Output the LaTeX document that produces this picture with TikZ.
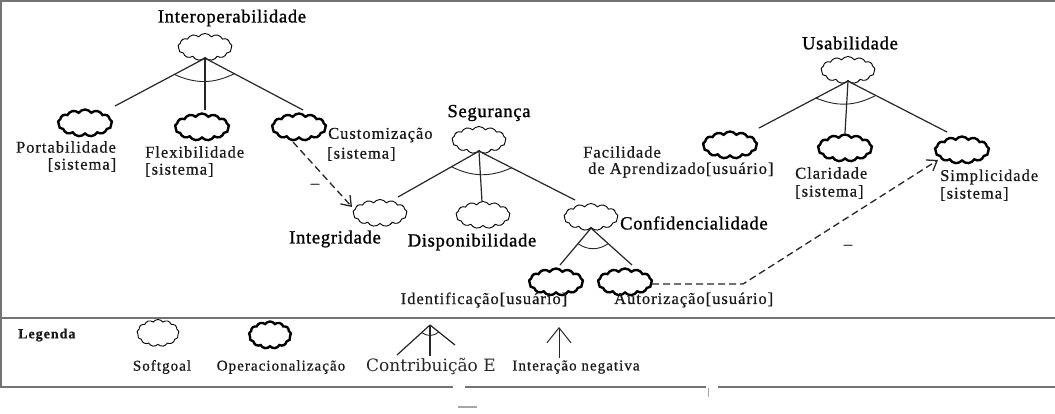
\documentclass[tikz,border=0pt]{standalone}
\usepackage{fontspec}
\setmainfont{Liberation Serif}
\newfontfamily\hfont[LetterSpace=4,FakeBold=1.2]{Liberation Serif}
\newfontfamily\lfont[LetterSpace=6,FakeBold=0.6]{Liberation Serif}
\newfontfamily\gfont[LetterSpace=7,FakeBold=0.8]{Liberation Serif}
\newfontfamily\cfont{DejaVu Serif}
\usetikzlibrary{shapes.symbols,arrows.meta,calc}
\begin{document}
\begin{tikzpicture}[x=1pt,y=1pt,
  soft/.style={cloud, cloud puffs=13, cloud puff arc=110, cloud ignores aspect, draw=black, line width=0.9pt, minimum width=54pt, minimum height=27pt, inner sep=0pt},
  oper/.style={soft, line width=2.4pt},
  head/.style={font=\hfont\fontsize{18.5}{20}\selectfont, inner sep=0pt, text=black},
  lab/.style={font=\lfont\fontsize{16.5}{18}\selectfont, inner sep=0pt, text=black!90},
  leg/.style={font=\gfont\fontsize{15}{17}\selectfont, inner sep=0pt, text=black!90},
  link/.style={draw=black!85, line width=1.2pt},
  andarc/.style={draw=black!85, line width=0.9pt},
  neg/.style={draw=black!85, line width=1.3pt, dash pattern=on 7pt off 4pt, -{Straight Barb[length=9pt,width=13pt]}},
  frame/.style={draw=black!55, line width=2.2pt}]
\useasboundingbox (0,0) rectangle (1055,-413);
% frame
\draw[frame] (1,-387) -- (1,-1) -- (1055,-1);
\draw[frame] (1,-318) -- (1055,-318);
\draw[frame] (0,-387) -- (453,-387);
\draw[frame] (465,-387) -- (706,-387);
\draw[frame] (718,-387) -- (1055,-387);
\draw[draw=black!35, line width=1.5pt] (458,-407) -- (477,-407);
\draw[draw=black!35, line width=1pt] (708,-388) -- (708,-397);

% Interoperabilidade
\node[soft] (interop) at (205,-47) {};
\node[head] (tinterop) at (232,-18) {Interoperabilidade};
\node[oper] (port) at (85,-123) {};
\node[oper] (flex) at (202,-127) {};
\node[oper] (cust) at (299,-127) {};
\node[lab] (tport) at (66,-147) {Portabilidade};
\node[lab] (tport2) at (82,-165) {[sistema]};
\node[lab, anchor=west] (tflex) at (145,-152) {Flexibilidade};
\node[lab, anchor=west] (tflex2) at (145,-170) {[sistema]};
\node[lab, anchor=west] (tcust) at (328,-135) {Customização};
\node[lab, anchor=west] (tcust2) at (327,-154) {[sistema]};
\coordinate (i1) at ($(port)+(30,17)$);
\coordinate (i2) at ($(flex)+(3,17)$);
\coordinate (i3) at ($(cust)+(4,17)$);
\draw[link] (interop.south) -- (i1);
\draw[link] (interop.south) -- (i2);
\draw[link] (interop.south) -- (i3);
\draw[andarc] ($(interop.south)!0.34!(i1)$) to[bend right=25] ($(interop.south)!0.3!(i3)$);

% Seguranca
\node[soft] (seg) at (479,-140) {};
\node[head] (tseg) at (489,-113) {Segurança};
\node[soft] (integ) at (380,-213) {};
\node[soft] (dispo) at (483,-215) {};
\node[soft] (conf) at (591,-217) {};
\node[head] (tinteg) at (335,-239) {Integridade};
\node[head] (tdispo) at (472,-242) {Disponibilidade};
\node[head, anchor=west] (tconf) at (620,-223) {Confidencialidade};
\coordinate (s1) at ($(integ)+(18,16)$);
\coordinate (s2) at ($(dispo)+(-1,13)$);
\coordinate (s3) at ($(conf)+(-16,17)$);
\draw[link] (seg.south) -- (s1);
\draw[link] (seg.south) -- (s2);
\draw[link] (seg.south) -- (s3);
\draw[andarc] ($(seg.south)!0.34!(s1)$) to[bend right=25] ($(seg.south)!0.34!(s3)$);

% Confidencialidade children
\node[oper] (ident) at (556,-282) {};
\node[oper] (autor) at (625,-282) {};
\node[lab] (tident) at (484,-300) {Identificação[usuário]};
\node[lab, anchor=west] (tautor) at (614,-300) {Autorização[usuário]};
\coordinate (c1) at ($(ident)+(4,17)$);
\coordinate (c2) at ($(autor)+(7,17)$);
\draw[link] (conf.south) -- (c1);
\draw[link] (conf.south) -- (c2);
\draw[andarc] ($(conf.south)!0.42!(c1)$) to[bend right=35] ($(conf.south)!0.42!(c2)$);

% Usabilidade
\node[soft] (usa) at (848,-70) {};
\node[head] (tusa) at (850,-43) {Usabilidade};
\node[oper] (facil) at (730,-145) {};
\node[oper] (clar) at (845,-148) {};
\node[oper] (simp) at (962,-150) {};
\node[lab, anchor=west] (tfacil) at (583,-152) {Facilidade};
\node[lab, anchor=west] (tfacil2) at (588,-170) {de Aprendizado[usuário]};
\node[lab, anchor=west] (tclar) at (795,-173) {Claridade};
\node[lab, anchor=west] (tclar2) at (795,-192) {[sistema]};
\node[lab, anchor=west] (tsimp) at (940,-177) {Simplicidade};
\node[lab, anchor=west] (tsimp2) at (940,-194) {[sistema]};
\coordinate (u1) at ($(facil)+(29,17)$);
\coordinate (u2) at ($(clar)+(0,15)$);
\coordinate (u3) at ($(simp)+(-15,18)$);
\draw[link] (usa.south) -- (u1);
\draw[link] (usa.south) -- (u2);
\draw[link] (usa.south) -- (u3);
\draw[andarc] ($(usa.south)!0.36!(u1)$) to[bend right=25] ($(usa.south)!0.28!(u3)$);

% negative interactions
\draw[neg] ($(cust)+(-6,-15)$) -- ($(integ)+(-28,6)$);
\node[lab] (minus1) at (315,-186) {–};
\coordinate (bend) at (743,-284);
\draw[neg] ($(autor)+(27,-2)$) -- (bend) -- ($(simp)+(-24,-10)$);
\node[lab] (minus2) at (848,-247) {–};

% legend
\node[leg, font=\gfont\bfseries\fontsize{14}{16}\selectfont, anchor=west] (tleg) at (18,-335) {Legenda};
\node[soft, minimum width=42pt, minimum height=27pt] (lsoft) at (158,-333) {};
\node[oper, minimum width=42pt, minimum height=27pt] (loper) at (270,-335) {};
\node[leg] (tlsoft) at (162,-367) {Softgoal};
\node[leg] (tloper) at (281,-367) {Operacionalização};
\node[inner sep=0pt, font=\cfont\fontsize{17}{19}\selectfont, text=black!85] (tland) at (431,-367) {Contribuição E};
\node[leg] (tlneg) at (576,-367) {Interação negativa};
\coordinate (ka) at (430,-325);
\coordinate (kl) at (397,-355);
\coordinate (km) at (430,-356);
\coordinate (kr) at (455,-345);
\draw[link] (ka) -- (kl);
\draw[link] (ka) -- (km);
\draw[link] (ka) -- (kr);
\draw[andarc] ($(ka)!0.25!(kl)$) to[bend right=40] ($(ka)!0.35!(kr)$);
\coordinate (na) at (559,-358);
\coordinate (nb) at (559,-327);
\draw[draw=black!85, line width=1pt, -{Straight Barb[length=15pt,width=24pt]}] (na) -- (nb);
\end{tikzpicture}
\end{document}
